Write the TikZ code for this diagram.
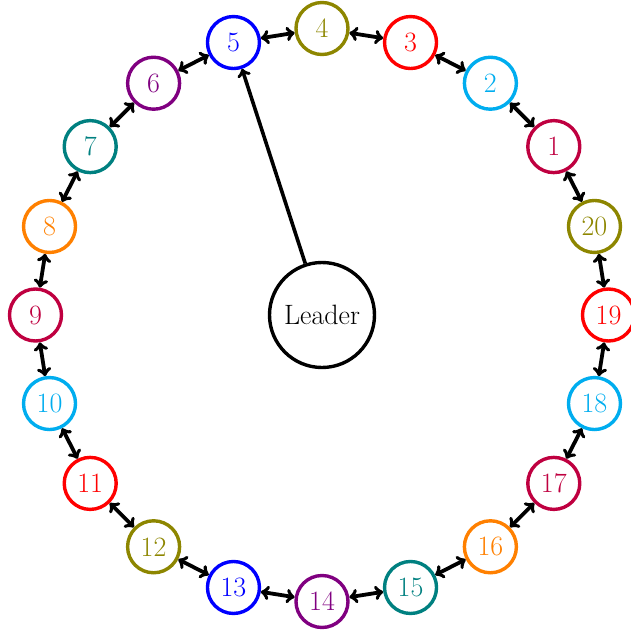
\documentclass[tikz,border=0pt]{standalone}
\usetikzlibrary{arrows,calc}
\begin{document}
\begin{tikzpicture}[x=1pt,y=1pt,
  ring/.style={circle,draw,line width=3.4pt,minimum size=52pt,inner sep=0pt,font=\fontsize{28}{34}\selectfont},
  lead/.style={circle,draw,line width=3.4pt,minimum size=105pt,inner sep=0pt,font=\fontsize{28}{34}\selectfont},
  link/.style={line width=3.8pt,<->,>=to}]
\useasboundingbox (0,0) rectangle (631,-633);
\node[lead] (L) at (322,-315) {Leader};
\foreach \i/\c in {1/purple,2/cyan,3/red,4/olive,5/blue,6/violet,7/teal,8/orange,9/purple,10/cyan,11/red,12/olive,13/blue,14/violet,15/teal,16/orange,17/purple,18/cyan,19/red,20/olive}{
  \pgfmathsetmacro\ang{18+18*\i}
  \node[ring,draw=\c,text=\c] (n\i) at ($(322,-315)+(\ang:286.5)$) {\i};
}
\foreach \i [evaluate=\i as \j using {int(mod(\i,20)+1)}] in {1,...,20}{
  \draw[link] (n\i) -- (n\j);
}
\draw[line width=3.6pt,->,>=to] (L) -- (n5);
\end{tikzpicture}
\end{document}
